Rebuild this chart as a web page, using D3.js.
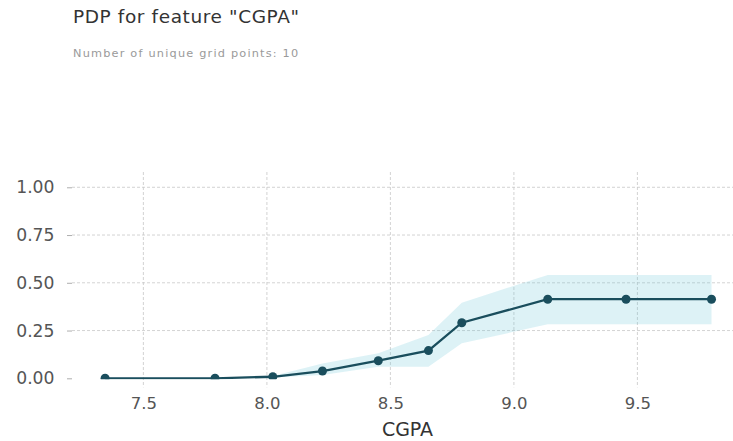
<!DOCTYPE html>
<html>
<head>
<meta charset="utf-8">
<script src="https://cdn.jsdelivr.net/npm/d3@7"></script>
<style>
  html, body { margin: 0; padding: 0; background: #fff; }
  svg { display: block; font-family: "DejaVu Sans", sans-serif; }
</style>
</head>
<body>
<svg id="chart" width="733" height="441"></svg>
<script>
// Partial dependence of the prediction on CGPA
const gridPoints = [7.345, 7.79, 8.024, 8.225, 8.451, 8.654, 8.789, 9.137, 9.454, 9.80];
const pdpValues  = [0.0, 0.0, 0.008, 0.038, 0.092, 0.145, 0.291, 0.414, 0.414, 0.414];
const pdpUpper   = [0.003, 0.003, 0.012, 0.078, 0.131, 0.227, 0.396, 0.541, 0.541, 0.541];
const pdpLower   = [0.0, 0.0, 0.004, 0.017, 0.060, 0.060, 0.183, 0.283, 0.283, 0.283];
const xTicks = [7.5, 8.0, 8.5, 9.0, 9.5];
const yTicks = [0.0, 0.25, 0.5, 0.75, 1.0];

const featureName = "CGPA";
const titleText = `PDP for feature "${featureName}"`;
const subtitleText = `Number of unique grid points: ${gridPoints.length}`;

const svg = d3.select("#chart");
const plot = { left: 72, right: 733, top: 172, bottom: 378.3 };

const x = d3.scaleLinear().domain([7.211, 9.887]).range([plot.left, plot.right]);
const y = d3.scaleLinear().domain([0, 1.08]).range([plot.bottom, plot.top]);

const rows = gridPoints.map((g, i) => ({ g, v: pdpValues[i], lo: pdpLower[i], hi: pdpUpper[i] }));

// Titles
svg.append("text").attr("x", 73).attr("y", 22.7)
  .attr("font-size", 18.5).attr("letter-spacing", 0.6).attr("fill", "#333").text(titleText);
svg.append("text").attr("x", 73).attr("y", 57.3)
  .attr("font-size", 11.3).attr("letter-spacing", 1.2).attr("fill", "#9a9a9a").text(subtitleText);

// Grid
const grid = svg.append("g").attr("stroke", "#c8c8c8").attr("stroke-width", 0.8)
  .attr("stroke-dasharray", "3,2").attr("fill", "none");
grid.selectAll("line.h").data(yTicks.filter(t => t > 0)).join("line")
  .attr("class", "h")
  .attr("x1", plot.left).attr("x2", plot.right)
  .attr("y1", d => y(d)).attr("y2", d => y(d));
grid.selectAll("line.v").data(xTicks).join("line")
  .attr("class", "v")
  .attr("x1", d => x(d)).attr("x2", d => x(d))
  .attr("y1", plot.top).attr("y2", plot.bottom + 9);

// Y axis: short ticks and labels
const yAxis = d3.axisLeft(y).tickValues(yTicks).tickFormat(d3.format(".2f"))
  .tickSize(5).tickPadding(12.5);
const yG = svg.append("g").attr("transform", `translate(${plot.left},0)`).call(yAxis);
yG.select(".domain").remove();
yG.selectAll(".tick line").attr("stroke", "#999").attr("stroke-width", 0.8);
yG.selectAll(".tick text").attr("fill", "#555").attr("font-size", 17.2)
  .attr("font-family", "DejaVu Sans, sans-serif");

// X axis labels
const xAxis = d3.axisBottom(x).tickValues(xTicks).tickFormat(d3.format(".1f"))
  .tickSize(0).tickPadding(18.5);
const xG = svg.append("g").attr("transform", `translate(0,${plot.bottom})`).call(xAxis);
xG.select(".domain").remove();
xG.selectAll(".tick text").attr("fill", "#555").attr("font-size", 16.5)
  .attr("font-family", "DejaVu Sans, sans-serif");

svg.append("text").attr("x", 407.5).attr("y", 436)
  .attr("text-anchor", "middle").attr("font-size", 19).attr("fill", "#333")
  .text(featureName);

// Clip to the plot area
svg.append("defs").append("clipPath").attr("id", "plotClip")
  .append("rect").attr("x", plot.left).attr("y", plot.top)
  .attr("width", plot.right - plot.left).attr("height", plot.bottom - plot.top + 1);

const body = svg.append("g").attr("clip-path", "url(#plotClip)");

// Confidence band
body.append("path").datum(rows)
  .attr("fill", "#66c2d7").attr("fill-opacity", 0.22)
  .attr("d", d3.area().x(d => x(d.g)).y0(d => y(d.lo)).y1(d => y(d.hi)));

// PDP line and markers
body.append("path").datum(rows)
  .attr("fill", "none").attr("stroke", "#1a4e5d").attr("stroke-width", 2.3)
  .attr("d", d3.line().x(d => x(d.g)).y(d => y(d.v)));
body.selectAll("circle").data(rows).join("circle")
  .attr("cx", d => x(d.g)).attr("cy", d => y(d.v)).attr("r", 4.5)
  .attr("fill", "#1a4e5d");
</script>
</body>
</html>
